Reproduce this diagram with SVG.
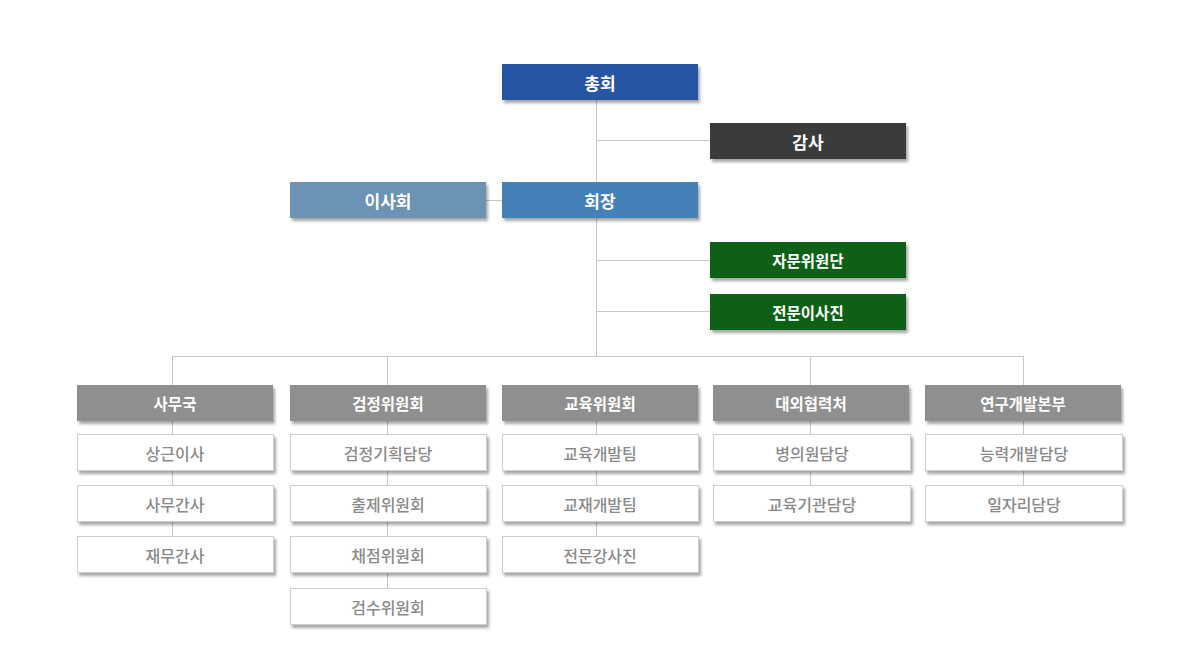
<svg xmlns="http://www.w3.org/2000/svg" width="1200" height="650" viewBox="0 0 1200 650">
<defs>
<filter id="sh" x="-10%" y="-30%" width="125%" height="180%">
<feDropShadow dx="2" dy="3" stdDeviation="1.6" flood-color="#000" flood-opacity="0.35"/>
</filter>
<style>
.b{filter:url(#sh)}
.t{font-family:"Noto Sans CJK KR","Noto Sans",sans-serif;text-anchor:middle;dominant-baseline:central}
.tw{fill:#fff;font-weight:bold;font-size:17px}
.th{fill:#fff;font-weight:bold;font-size:15.5px}
.ts{fill:#8a8a8a;font-size:16px;font-weight:500}
.sub{fill:#fff;stroke:#cfcfcf;stroke-width:1}
.hd{fill:#8f8f8f}
.ln{stroke:#c8c8c8;stroke-width:1;fill:none}
</style>
</defs>
<rect width="1200" height="650" fill="#fff"/>
<g id="connectors">
<path class="ln" d="M596.5 100V356M596.5 140.5H710M486 200.5H502M596.5 260.5H710M596.5 311.5H710M172.5 356.5H1023.5M172.5 356V385M387.5 356V385M810.5 356V385M1023.5 356V385"/>
<path class="ln" d="M172.5 421V536M387.5 421V588M596.5 421V536M810.5 421V485M1023.5 421V485"/>
</g>
<g id="n-chonghoe"><rect class="b" x="502" y="64" width="196" height="36" fill="#2755a2"/><text class="t tw" x="600" y="82">총회</text></g>
<g id="n-gamsa"><rect class="b" x="710" y="123" width="196" height="36" fill="#3a3a3a"/><text class="t tw" x="808" y="141">감사</text></g>
<g id="n-isahoe"><rect class="b" x="290" y="182" width="196" height="36" fill="#6b93b6"/><text class="t tw" x="388" y="200">이사회</text></g>
<g id="n-hoejang"><rect class="b" x="502" y="182" width="196" height="36" fill="#4580b8"/><text class="t tw" x="600" y="200">회장</text></g>
<g id="n-jamun"><rect class="b" x="710" y="242" width="196" height="36" fill="#096112"/><text class="t th" x="808" y="260">자문위원단</text></g>
<g id="n-jeonmun"><rect class="b" x="710" y="294" width="196" height="36" fill="#096112"/><text class="t th" x="808" y="312">전문이사진</text></g>

<g id="n-samuguk"><rect class="b hd" x="77" y="385" width="196" height="36"/><text class="t th" x="175" y="403">사무국</text></g>
<g id="n-sanggeun"><rect class="b sub" x="77.5" y="434.5" width="196" height="36"/><text class="t ts" x="175" y="453">상근이사</text></g>
<g id="n-samugansa"><rect class="b sub" x="77.5" y="485.5" width="196" height="36"/><text class="t ts" x="175" y="504">사무간사</text></g>
<g id="n-jaemu"><rect class="b sub" x="77.5" y="536.5" width="196" height="36"/><text class="t ts" x="175" y="555">재무간사</text></g>

<g id="n-geomjeong"><rect class="b hd" x="290" y="385" width="196" height="36"/><text class="t th" x="388" y="403">검정위원회</text></g>
<g id="n-gihoek"><rect class="b sub" x="290.5" y="434.5" width="196" height="36"/><text class="t ts" x="388" y="453">검정기획담당</text></g>
<g id="n-chulje"><rect class="b sub" x="290.5" y="485.5" width="196" height="36"/><text class="t ts" x="388" y="504">출제위원회</text></g>
<g id="n-chaejeom"><rect class="b sub" x="290.5" y="536.5" width="196" height="36"/><text class="t ts" x="388" y="555">채점위원회</text></g>
<g id="n-geomsu"><rect class="b sub" x="290.5" y="588.5" width="196" height="36"/><text class="t ts" x="388" y="607">검수위원회</text></g>

<g id="n-gyoyuk"><rect class="b hd" x="502" y="385" width="196" height="36"/><text class="t th" x="600" y="403">교육위원회</text></g>
<g id="n-gyoyukdev"><rect class="b sub" x="502.5" y="434.5" width="196" height="36"/><text class="t ts" x="600" y="453">교육개발팀</text></g>
<g id="n-gyojae"><rect class="b sub" x="502.5" y="485.5" width="196" height="36"/><text class="t ts" x="600" y="504">교재개발팀</text></g>
<g id="n-ganghsa"><rect class="b sub" x="502.5" y="536.5" width="196" height="36"/><text class="t ts" x="600" y="555">전문강사진</text></g>

<g id="n-daeoe"><rect class="b hd" x="713" y="385" width="196" height="36"/><text class="t th" x="811" y="403">대외협력처</text></g>
<g id="n-byeong"><rect class="b sub" x="713.5" y="434.5" width="197" height="36"/><text class="t ts" x="812" y="453">병의원담당</text></g>
<g id="n-gigwan"><rect class="b sub" x="713.5" y="485.5" width="197" height="36"/><text class="t ts" x="812" y="504">교육기관담당</text></g>

<g id="n-yeongu"><rect class="b hd" x="925" y="385" width="196" height="36"/><text class="t th" x="1023" y="403">연구개발본부</text></g>
<g id="n-neungryeok"><rect class="b sub" x="925.5" y="434.5" width="197" height="36"/><text class="t ts" x="1024" y="453">능력개발담당</text></g>
<g id="n-iljari"><rect class="b sub" x="925.5" y="485.5" width="197" height="36"/><text class="t ts" x="1024" y="504">일자리담당</text></g>
</svg>
